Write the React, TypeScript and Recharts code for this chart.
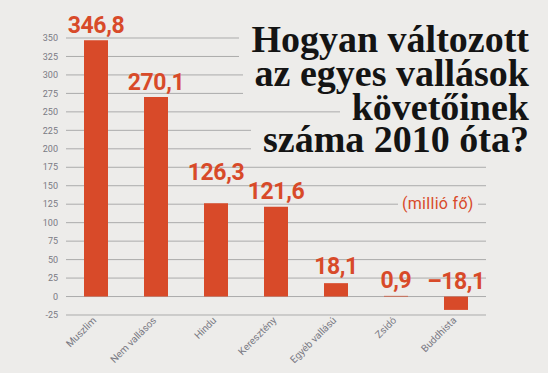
import React from 'react';
import { BarChart, Bar, XAxis, YAxis, CartesianGrid } from 'recharts';

const categories = ['Muszlim', 'Nem vallásos', 'Hindu', 'Keresztény', 'Egyéb vallású', 'Zsidó', 'Buddhista'];
const values = [346.8, 270.1, 126.3, 121.6, 18.1, 0.9, -18.1];
const yTicks = [-25, 0, 25, 50, 75, 100, 125, 150, 175, 200, 225, 250, 275, 300, 325, 350];
const titleLines = ['Hogyan változott', 'az egyes vallások', 'követőinek', 'száma 2010 óta?'];
const unitLabel = '(millió fő)';
// extra lift (px) of a value label above its bar, as laid out in the reference
const labelLift = [0, 0, 16, 0, 2, 0, 0];

const data = categories.map((name, i) => ({ name, value: values[i] }));

const BG = '#EDECEA';
const ORANGE = '#D84A29';
const GRID = '#ABABAB';
const TICK = '#7A7A84';

const fmt = (v: number) => {
  const s = Math.abs(v).toFixed(1).replace('.', ',');
  return v < 0 ? '\u2013' + s : s;
};

const renderLabel = (props: any) => {
  const { x, y, width, height, value, index } = props;
  const top = Math.min(Number(y), Number(y) + Number(height));
  const lift = labelLift[Number(index)] || 0;
  return (
    <text
      x={Number(x) + Number(width) / 2}
      y={top - 7.5 - lift}
      textAnchor="middle"
      fontFamily="Roboto"
      fontWeight={700}
      fontSize={23}
      letterSpacing={-0.4}
      fill={ORANGE}
    >
      {fmt(Number(value))}
    </text>
  );
};

const XTick = (props: any) => {
  const { x, y, payload } = props;
  return (
    <g transform={`translate(${Number(x) + 1},${Number(y) + 6})`}>
      <text x={0} y={0} textAnchor="end" transform="rotate(-45)" fontFamily="Roboto" fontSize={10} fill={TICK}>
        {payload.value}
      </text>
    </g>
  );
};

const lineTops = [19, 52.6, 87, 118.6];

export default function App() {
  return (
    <div
      style={{
        position: 'absolute',
        left: 0,
        top: 0,
        width: 548,
        height: 373,
        background: BG,
        fontFamily: 'Roboto',
        overflow: 'hidden',
      }}
    >
      <BarChart width={548} height={373} data={data} margin={{ top: 38, right: 62, left: 0, bottom: 0 }} barSize={24}>
        <CartesianGrid vertical={false} stroke={GRID} strokeWidth={1} />
        <YAxis
          type="number"
          domain={[-25, 350]}
          ticks={yTicks}
          width={66}
          axisLine={false}
          tickLine={false}
          tickSize={0}
          tickMargin={8}
          interval={0}
          tick={{ fontSize: 9, fill: TICK, fontFamily: 'Roboto' }}
        />
        <XAxis
          dataKey="name"
          height={58}
          axisLine={false}
          tickLine={false}
          tickSize={0}
          tickMargin={0}
          interval={0}
          tick={<XTick />}
        />
        <Bar dataKey="value" fill={ORANGE} isAnimationActive={false} label={renderLabel} />
      </BarChart>
      {titleLines.map((line, i) => (
        <div
          key={i}
          style={{
            position: 'absolute',
            right: 7,
            top: lineTops[i],
            height: 43,
            fontFamily: '"Liberation Serif", serif',
            fontWeight: 700,
            fontSize: 38,
            lineHeight: '41px',
            color: '#141414',
            background: BG,
            padding: '0 12px',
            whiteSpace: 'nowrap',
            boxSizing: 'border-box',
          }}
        >
          <span style={{ position: 'relative', zIndex: 2 }}>{line}</span>
        </div>
      ))}
      <div
        style={{
          position: 'absolute',
          left: 398,
          top: 194,
          fontFamily: 'Roboto',
          fontSize: 16,
          lineHeight: '20px',
          letterSpacing: 0.3,
          color: ORANGE,
          background: BG,
          padding: '0 4px',
          whiteSpace: 'nowrap',
        }}
      >
        {unitLabel}
      </div>
    </div>
  );
}
